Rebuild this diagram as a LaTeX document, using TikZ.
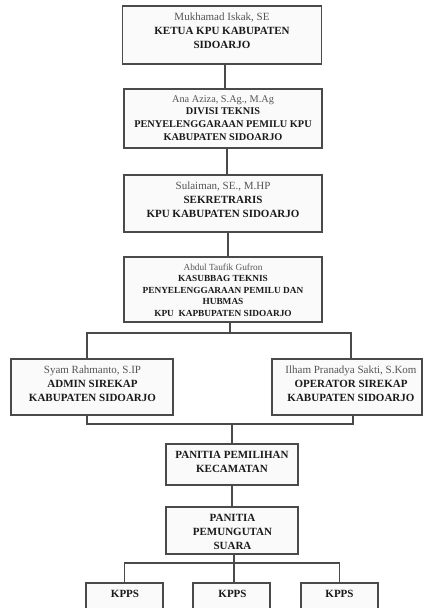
\documentclass[tikz,border=0pt]{standalone}
\usepackage{fontspec}
\setmainfont{Liberation Serif}
\definecolor{boxline}{HTML}{4A4A4A}
\definecolor{boxfill}{HTML}{FAFAFA}
\definecolor{nametext}{HTML}{555555}
\definecolor{headtext}{HTML}{1A1A1A}
\tikzset{
  box/.style={draw=boxline, fill=boxfill, line width=1.1pt, inner sep=0pt, outer sep=0pt},
  txt/.style={align=center, inner sep=0pt, outer sep=0pt, text=headtext, anchor=north,
              font=\fontsize{11}{14}\selectfont},
  conn/.style={draw=boxline, line width=1.1pt},
}
\newcommand{\nm}[1]{{\color{nametext}#1}}
\begin{document}
\begin{tikzpicture}[x=1pt,y=-1pt]
\clip (0,0) rectangle (424,608);
\fill[white] (0,0) rectangle (424,608);

% boxes
\node[box, minimum width=199, minimum height=58] (b1) at (222,35) {};
\node[box, minimum width=198, minimum height=59] (b2) at (223,118.5) {};
\node[box, minimum width=198, minimum height=57] (b3) at (223,203.5) {};
\node[box, minimum width=198, minimum height=65] (b4) at (223,289.5) {};
\node[box, minimum width=162, minimum height=56] (ad) at (92,387) {};
\node[box, minimum width=150, minimum height=56] (op) at (347,387) {};
\node[box, minimum width=132, minimum height=41] (ppk) at (232,464.5) {};
\node[box, minimum width=132, minimum height=47] (pps) at (232,530.5) {};
\node[box, minimum width=77, minimum height=50] (k1) at (124.5,608) {};
\node[box, minimum width=77, minimum height=50] (k2) at (231.5,608) {};
\node[box, minimum width=77, minimum height=50] (k3) at (339.5,608) {};

% texts
\node[txt] (t1) at (222,13) {\nm{Mukhamad Iskak, SE}\\\bfseries KETUA KPU KABUPATEN\\\bfseries SIDOARJO};
\node[txt, font=\fontsize{10.3}{12.6}\selectfont] (t2) at (223,95.5) {\nm{Ana Aziza, S.Ag., M.Ag}\\\bfseries DIVISI TEKNIS\\\bfseries PENYELENGGARAAN PEMILU KPU\\\bfseries KABUPATEN SIDOARJO};
\node[txt] (t3) at (223,182) {\nm{Sulaiman, SE., M.HP}\\\bfseries SEKRETRARIS\\\bfseries KPU KABUPATEN SIDOARJO};
\node[txt, font=\fontsize{9.3}{11.6}\selectfont] (t4) at (223,263.5) {\nm{Abdul Taufik Gufron}\\\bfseries KASUBBAG TEKNIS\\\bfseries PENYELENGGARAAN PEMILU DAN\\\bfseries HUBMAS\\\bfseries KPU\ \ KAPBUPATEN SIDOARJO};
\node[txt] (tad) at (92.5,366) {\nm{Syam Rahmanto, S.IP}\\\bfseries ADMIN SIREKAP\\\bfseries KABUPATEN SIDOARJO};
\node[txt] (top) at (351,366) {\nm{Ilham Pranadya Sakti, S.Kom}\\\bfseries OPERATOR SIREKAP\\\bfseries KABUPATEN SIDOARJO};
\node[txt] (tppk) at (232,451) {\bfseries PANITIA PEMILIHAN\\\bfseries KECAMATAN};
\node[txt] (tpps) at (232.5,514) {\bfseries PANITIA\\\bfseries PEMUNGUTAN\\\bfseries SUARA};
\node[txt] (tk1) at (125,590) {\bfseries KPPS};
\node[txt] (tk2) at (232.5,590) {\bfseries KPPS};
\node[txt] (tk3) at (339.5,590) {\bfseries KPPS};

% connectors
\coordinate (j1) at (230,333);
\coordinate (j2) at (232,424);
\coordinate (j3) at (234,563);
\draw[conn] ([xshift=3pt]b1.south) -- ([xshift=3pt]b1.south |- b2.north);
\draw[conn] ([xshift=4pt]b2.south) -- ([xshift=4pt]b2.south |- b3.north);
\draw[conn] ([xshift=5pt]b3.south) -- ([xshift=5pt]b3.south |- b4.north);
\draw[conn] ([xshift=7pt]b4.south) -- ([xshift=7pt]b4.south |- j1);
\draw[conn] ([xshift=-5pt]ad.north) -- ([xshift=-5pt]ad.north |- j1) -- ([xshift=4pt]op.north |- j1) -- ([xshift=4pt]op.north);
\draw[conn] ([xshift=-5pt]ad.south) -- ([xshift=-5pt]ad.south |- j2) -- ([xshift=6pt]op.south |- j2) -- ([xshift=6pt]op.south);
\draw[conn] (j2) -- (ppk.north);
\draw[conn] (ppk.south) -- (pps.north);
\draw[conn] ([xshift=2pt]pps.south) -- (j3);
\draw[conn] (k1.north) -- (k1.north |- j3) -- (k3.north |- j3) -- (k3.north);
\draw[conn] (j3) -- (j3 |- k2.north);
\end{tikzpicture}
\end{document}
